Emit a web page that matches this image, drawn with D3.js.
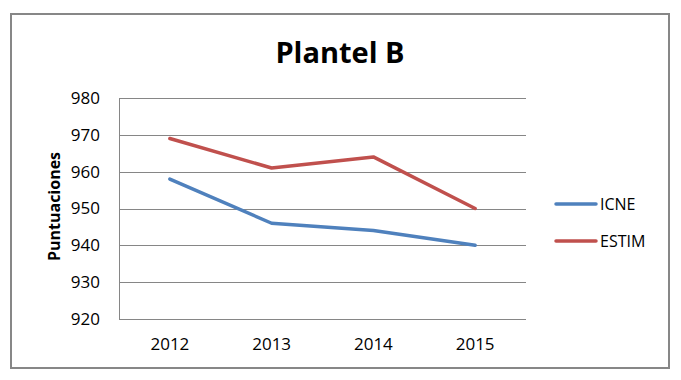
<!DOCTYPE html>
<html>
<head>
<meta charset="utf-8">
<script src="https://cdn.jsdelivr.net/npm/d3@7"></script>
<style>
	body { margin: 0; background: #fff; }
	text { font-family: "Open Sans", sans-serif; fill: #000; }
</style>
</head>
<body>
<div id="chart"></div>
<script>
// data
const years = ["2012", "2013", "2014", "2015"];
const icne = [958, 946, 944, 940];
const estim = [969, 961, 964, 950];
const seriesNames = ["ICNE", "ESTIM"];
const seriesColors = ["#4F81BD", "#C0504D"];
const yTicks = [920, 930, 940, 950, 960, 970, 980];

let margin = {top: 98, right: 155, bottom: 61, left: 119};
let width = 681 - margin.left - margin.right;
let height = 380 - margin.top - margin.bottom;

let root = d3.select("#chart").append("svg")
	.attr("width", 681)
	.attr("height", 380);

// outer frame
root.append("rect")
	.attr("x", 11).attr("y", 14)
	.attr("width", 658).attr("height", 354)
	.attr("fill", "#fff")
	.attr("stroke", "#878787")
	.attr("stroke-width", 2);

root.append("text")
	.attr("x", 340).attr("y", 63)
	.attr("text-anchor", "middle")
	.style("font-size", "29px")
	.style("font-weight", "bold")
	.text("Plantel B");

let svg = root.append("g")
	.attr("transform", "translate(" + margin.left + "," + margin.top + ")");

let x = d3.scaleBand()
	.domain(years)
	.range([0, width]);

let y = d3.scaleLinear()
	.domain([920, 980])
	.range([height, 0]);

// gridlines
svg.selectAll(".grid")
	.data(yTicks)
	.enter()
	.append("line")
	.attr("class", "grid")
	.attr("x1", 0).attr("x2", width)
	.attr("y1", d => Math.round(y(d)) + 0.5)
	.attr("y2", d => Math.round(y(d)) + 0.5)
	.attr("stroke", "#868686")
	.attr("stroke-width", 1);

// y axis
let yAxis = d3.axisLeft(y).tickValues(yTicks).tickSize(0).tickPadding(19);
let gy = svg.append("g").call(yAxis);
gy.select(".domain").attr("stroke", "#868686").attr("d", "M0.5," + height + "V0");
gy.selectAll("text").style("font-size", "17px").style("font-family", "'Open Sans', sans-serif");

// x axis
let xAxis = d3.axisBottom(x).tickSize(0).tickPadding(19);
let gx = svg.append("g")
	.attr("transform", "translate(0," + height + ")")
	.call(xAxis);
gx.select(".domain").remove();
gx.selectAll("text").style("font-size", "17px").style("font-family", "'Open Sans', sans-serif");

svg.append("text")
	.attr("transform", "translate(-59," + (height / 2 - 2) + ") rotate(-90)")
	.attr("text-anchor", "middle")
	.style("font-size", "16px")
	.style("font-weight", "bold")
	.text("Puntuaciones");

// lines
let line = d3.line()
	.x((d, i) => x(years[i]) + x.bandwidth() / 2)
	.y(d => y(d));

[icne, estim].forEach((values, i) => {
	svg.append("path")
		.datum(values)
		.attr("d", line)
		.attr("fill", "none")
		.attr("stroke", seriesColors[i])
		.attr("stroke-width", 3.5)
		.attr("stroke-linecap", "round")
		.attr("stroke-linejoin", "round");
});

// legend
let legend = root.append("g").attr("transform", "translate(556,204)");
seriesNames.forEach((name, i) => {
	let g = legend.append("g").attr("transform", "translate(0," + (i * 37) + ")");
	g.append("line")
		.attr("x1", 0).attr("x2", 40)
		.attr("stroke", seriesColors[i])
		.attr("stroke-width", 3.5)
		.attr("stroke-linecap", "round");
	g.append("text")
		.attr("x", 44).attr("y", 6)
		.style("font-size", "16px")
		.text(name);
});
</script>
</body>
</html>
